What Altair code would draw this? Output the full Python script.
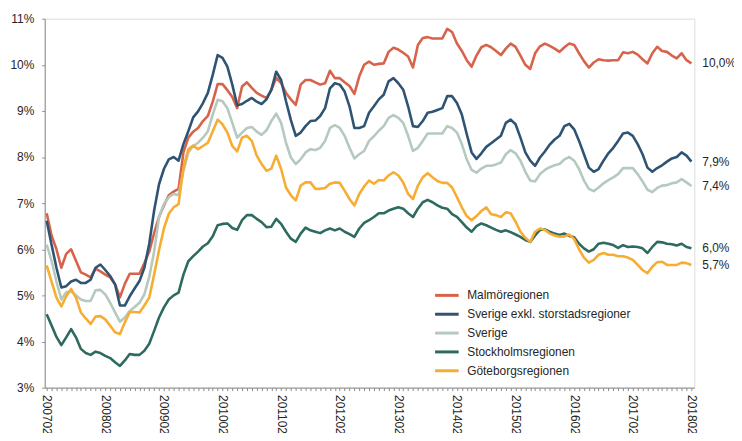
import altair as alt
import pandas as pd

months = list(range(133))
tick_labels = ["200702", "200802", "200902", "201002", "201102", "201202",
               "201302", "201402", "201502", "201602", "201702", "201802"]
label_months = [12 * k for k in range(len(tick_labels))]
series_names = ["Malmöregionen", "Sverige exkl. storstadsregioner", "Sverige",
                "Stockholmsregionen", "Göteborgsregionen"]
colors = ["#d8634b", "#2f5473", "#b5c9bf", "#2d6a5f", "#f7ac32"]

malmo = [6.78, 6.3, 6.0, 5.6, 5.9, 6.0, 5.75, 5.5, 5.45, 5.39, 5.58, 5.52, 5.45, 5.39, 5.24, 4.96,
         5.25, 5.47, 5.47, 5.47, 5.7, 5.95, 6.35, 6.7, 6.95, 7.17, 7.25, 7.31, 8.1, 8.42, 8.55, 8.63,
         8.78, 8.89, 9.2, 9.58, 9.58, 9.45, 9.3, 9.06, 9.53, 9.62, 9.5, 9.39, 9.33, 9.28, 9.45, 9.72,
         9.6, 9.39, 9.25, 9.13, 9.57, 9.67, 9.67, 9.62, 9.57, 9.6, 9.87, 9.71, 9.71, 9.62, 9.54, 9.37,
         9.75, 10.0, 10.07, 10.0, 10.02, 10.03, 10.28, 10.37, 10.33, 10.26, 10.18, 9.94, 10.43, 10.58,
         10.6, 10.57, 10.57, 10.57, 10.78, 10.71, 10.46, 10.3, 10.1, 9.96, 10.2, 10.38, 10.43, 10.38,
         10.3, 10.21, 10.35, 10.46, 10.39, 10.2, 10.0, 9.91, 10.25, 10.4, 10.46, 10.41, 10.35, 10.28,
         10.38, 10.46, 10.43, 10.25, 10.08, 9.94, 10.05, 10.12, 10.1, 10.09, 10.1, 10.1, 10.27, 10.25,
         10.28, 10.22, 10.12, 10.03, 10.25, 10.39, 10.3, 10.28, 10.2, 10.14, 10.25, 10.1, 10.03]

sverige_exkl = [6.62, 6.1, 5.6, 5.17, 5.2, 5.3, 5.34, 5.27, 5.27, 5.34, 5.6, 5.67, 5.55, 5.42, 5.24,
                4.78, 4.78, 4.98, 5.15, 5.31, 5.6, 6.12, 6.84, 7.41, 7.74, 7.95, 8.0, 7.92, 8.28, 8.56,
                8.86, 8.99, 9.17, 9.39, 9.78, 10.21, 10.15, 9.96, 9.57, 9.12, 9.15, 9.22, 9.28, 9.2,
                9.15, 9.25, 9.46, 9.85, 9.67, 9.21, 8.8, 8.46, 8.53, 8.67, 8.78, 8.79, 8.89, 9.06, 9.49,
                9.6, 9.57, 9.42, 9.1, 8.63, 8.63, 8.67, 8.96, 9.1, 9.25, 9.35, 9.64, 9.71, 9.6, 9.46,
                9.1, 8.67, 8.65, 8.78, 8.96, 8.98, 9.02, 9.06, 9.32, 9.32, 9.17, 8.92, 8.5, 8.1, 7.96,
                8.08, 8.22, 8.3, 8.38, 8.46, 8.74, 8.81, 8.71, 8.42, 8.1, 7.92, 7.81, 7.99, 8.12, 8.27,
                8.38, 8.46, 8.67, 8.72, 8.6, 8.35, 8.06, 7.77, 7.68, 7.74, 7.92, 8.08, 8.2, 8.35, 8.51,
                8.53, 8.46, 8.28, 8.06, 7.77, 7.68, 7.76, 7.82, 7.9, 7.97, 8.0, 8.1, 8.03, 7.9]

sverige = [6.1, 5.75, 5.3, 4.91, 5.07, 5.09, 5.0, 4.91, 4.88, 4.88, 5.11, 5.12, 5.02, 4.84, 4.63, 4.43,
           4.52, 4.66, 4.75, 4.84, 5.02, 5.4, 5.95, 6.7, 6.98, 7.13, 7.2, 7.17, 7.7, 8.1, 8.24, 8.31,
           8.42, 8.56, 8.92, 9.24, 9.21, 9.06, 8.74, 8.42, 8.53, 8.63, 8.65, 8.55, 8.48, 8.58, 8.78,
           8.94, 8.74, 8.31, 7.99, 7.85, 7.95, 8.1, 8.17, 8.15, 8.2, 8.35, 8.63, 8.69, 8.63, 8.46, 8.2,
           7.97, 8.06, 8.13, 8.35, 8.45, 8.57, 8.67, 8.85, 8.91, 8.85, 8.74, 8.46, 8.13, 8.2, 8.35,
           8.51, 8.51, 8.51, 8.51, 8.67, 8.63, 8.53, 8.28, 7.95, 7.72, 7.66, 7.75, 7.81, 7.81, 7.84,
           7.88, 8.06, 8.15, 8.08, 7.92, 7.68, 7.49, 7.47, 7.63, 7.72, 7.78, 7.82, 7.85, 7.95, 8.0,
           7.92, 7.74, 7.49, 7.31, 7.26, 7.34, 7.43, 7.5, 7.56, 7.63, 7.76, 7.76, 7.76, 7.63, 7.47,
           7.29, 7.24, 7.33, 7.38, 7.39, 7.43, 7.45, 7.52, 7.45, 7.37]

stockholm = [4.59, 4.35, 4.1, 3.92, 4.09, 4.27, 4.09, 3.84, 3.75, 3.71, 3.78, 3.75, 3.69, 3.64, 3.55,
             3.47, 3.59, 3.73, 3.71, 3.71, 3.8, 3.95, 4.23, 4.52, 4.74, 4.91, 5.0, 5.06, 5.45, 5.74,
             5.85, 5.95, 6.06, 6.13, 6.28, 6.52, 6.55, 6.56, 6.46, 6.42, 6.63, 6.74, 6.74, 6.66, 6.59,
             6.48, 6.49, 6.66, 6.55, 6.38, 6.23, 6.16, 6.34, 6.47, 6.41, 6.38, 6.35, 6.41, 6.45, 6.41,
             6.45, 6.38, 6.33, 6.27, 6.45, 6.57, 6.63, 6.7, 6.78, 6.78, 6.84, 6.88, 6.91, 6.88, 6.78,
             6.7, 6.88, 7.02, 7.07, 7.02, 6.95, 6.9, 6.88, 6.76, 6.7, 6.59, 6.47, 6.38, 6.5, 6.56, 6.52,
             6.47, 6.42, 6.38, 6.41, 6.37, 6.32, 6.27, 6.2, 6.16, 6.3, 6.42, 6.43, 6.38, 6.34, 6.31,
             6.34, 6.29, 6.26, 6.12, 6.02, 5.95, 6.0, 6.12, 6.14, 6.12, 6.09, 6.03, 6.09, 6.05, 6.06,
             6.05, 6.02, 5.92, 6.05, 6.16, 6.15, 6.12, 6.11, 6.08, 6.12, 6.05, 6.02]

goteborg = [5.65, 5.3, 4.95, 4.76, 4.98, 5.14, 4.95, 4.63, 4.5, 4.38, 4.54, 4.55, 4.48, 4.34, 4.2, 4.16,
            4.41, 4.64, 4.64, 4.63, 4.78, 4.95, 5.45, 5.98, 6.45, 6.77, 6.91, 6.98, 7.77, 8.17, 8.25,
            8.17, 8.24, 8.31, 8.56, 8.81, 8.71, 8.53, 8.24, 8.12, 8.42, 8.46, 8.35, 8.03, 7.85, 7.7,
            7.75, 8.03, 7.74, 7.34, 7.17, 7.06, 7.38, 7.45, 7.45, 7.31, 7.31, 7.33, 7.42, 7.45, 7.44,
            7.27, 7.09, 6.95, 7.2, 7.36, 7.49, 7.42, 7.5, 7.49, 7.6, 7.67, 7.6, 7.45, 7.2, 7.09, 7.38,
            7.56, 7.65, 7.56, 7.48, 7.44, 7.44, 7.34, 7.13, 6.91, 6.72, 6.63, 6.72, 6.83, 6.91, 6.76,
            6.74, 6.7, 6.8, 6.78, 6.6, 6.38, 6.25, 6.16, 6.38, 6.45, 6.42, 6.34, 6.3, 6.27, 6.28, 6.32,
            6.22, 6.0, 5.82, 5.71, 5.77, 5.88, 5.92, 5.88, 5.88, 5.85, 5.85, 5.82, 5.77, 5.66, 5.55,
            5.48, 5.62, 5.72, 5.73, 5.66, 5.66, 5.66, 5.71, 5.7, 5.66]

all_series = [malmo, sverige_exkl, sverige, stockholm, goteborg]

rows = []
for k, (name, vals) in enumerate(zip(series_names, all_series)):
    for m, v in zip(months, vals):
        rows.append({"month": m, "series": name, "value": v, "k": k})
df = pd.DataFrame(rows)

last = pd.DataFrame([
    {"month": months[-1], "series": name, "value": vals[-1],
     "label": f"{vals[-1]:.1f}".replace(".", ",") + "%"}
    for name, vals in zip(series_names, all_series)
])

label_array = "[" + ",".join(f"'{t}'" for t in tick_labels) + "]"
x_label_expr = f"{label_array}[round(datum.value / 12)]"

FONT = "Liberation Sans"
TXT = "#262626"
AX = "#8c8c8c"
x_scale = alt.Scale(domain=[-0.406, 132.6], nice=False, zero=False)

x_enc = alt.X("month:Q", scale=x_scale,
              axis=alt.Axis(values=label_months, labelExpr=x_label_expr, title=None, grid=False,
                            orient="bottom", ticks=False, domainColor=AX, labelAngle=90,
                            labelAlign="left", labelBaseline="middle", labelPadding=7,
                            labelFontSize=12, labelFont=FONT, labelColor=TXT,
                            labelOverlap=False, labelFlush=False, labelBound=False))
y_enc = alt.Y("value:Q",
              scale=alt.Scale(domain=[3, 11], nice=False, zero=False),
              axis=alt.Axis(values=list(range(3, 12)), labelExpr="datum.value + '%'",
                            title=None, grid=False, tickSize=3, tickColor=AX, domainColor=AX,
                            labelPadding=8, labelFontSize=12, labelFont=FONT, labelColor=TXT))

lines = alt.Chart(df).mark_line(strokeWidth=2.6, strokeJoin="round").encode(
    x=x_enc,
    y=y_enc,
    color=alt.Color("series:N",
                    scale=alt.Scale(domain=series_names, range=colors),
                    sort=series_names,
                    legend=alt.Legend(orient="none", legendX=395.5, legendY=269, title=None,
                                      direction="vertical", symbolType="M-1.4,0H1.4",
                                      symbolSize=289, symbolStrokeWidth=3, labelFontSize=12,
                                      labelFont=FONT, labelColor=TXT, labelOffset=10.5,
                                      labelLimit=400, rowPadding=3, padding=0)),
    order="month:Q",
)

end_labels = alt.Chart(last).mark_text(align="left", baseline="middle", dx=11, fontSize=12,
                                       font=FONT, color=TXT).encode(
    x=alt.X("month:Q", scale=x_scale,
            axis=alt.Axis(values=months, labels=False, domain=False, grid=False, title=None,
                          orient="bottom", tickSize=3, tickColor=AX)),
    y="value:Q",
    text="label:N",
)

chart = alt.layer(lines, end_labels).resolve_axis(x="independent").properties(
    width=655, height=372,
    padding={"left": 37, "top": 9, "right": 40, "bottom": 44},
    autosize=alt.AutoSizeParams(type="none"),
).configure_view(stroke=None).configure(background="white")

chart.save("out.html", embed_options={"renderer": "svg", "actions": False})
